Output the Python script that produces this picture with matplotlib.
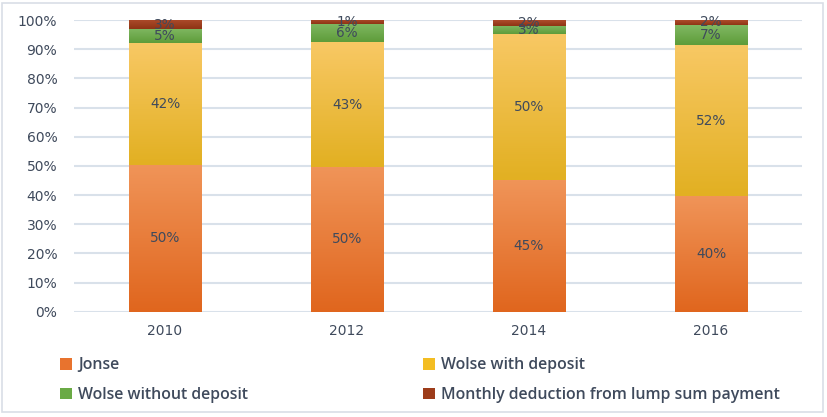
import matplotlib
matplotlib.use("Agg")
import matplotlib.pyplot as plt
import numpy as np
from matplotlib.colors import LinearSegmentedColormap
from matplotlib.patches import Patch, Rectangle

years = ["2010", "2012", "2014", "2016"]
jonse = [50.4, 49.6, 45.1, 39.6]
wolse_dep = [41.6, 42.8, 50.1, 51.9]
wolse_nodep = [4.9, 6.2, 2.8, 6.8]
monthly = [3.1, 1.4, 2.0, 1.7]

series_names = ["Jonse", "Wolse with deposit", "Wolse without deposit",
                "Monthly deduction from lump sum payment"]
series_vals = [jonse, wolse_dep, wolse_nodep, monthly]
# (top colour, bottom colour) for the gradient, plus a flat legend colour
grad_cols = [("#F09458", "#E0661E"), ("#F8C864", "#E2B022"),
             ("#80B862", "#5E9C3A"), ("#AE4C2C", "#8E3414")]
legend_cols = ["#E8732E", "#F3BD22", "#6AAA45", "#9D3C1A"]

txt_col = "#3F4A5C"
grid_col = "#D9E1EA"

fig = plt.figure(figsize=(8.27, 4.17), dpi=100)
ax = fig.add_axes([0.0895, 0.2525, 0.8803, 0.6995])

x = np.arange(len(years))
width = 0.4
bottom = np.zeros(len(years))
for vals, (c_top, c_bot) in zip(series_vals, grad_cols):
    vals = np.array(vals)
    bars = ax.bar(x, vals, width, bottom=bottom, color="none", edgecolor="none", zorder=3)
    cmap = LinearSegmentedColormap.from_list("g", [c_bot, c_top])
    grad = np.linspace(0, 1, 64).reshape(-1, 1)
    for b in bars:
        x0, y0 = b.get_x(), b.get_y()
        im = ax.imshow(grad, cmap=cmap, origin="lower", aspect="auto",
                       extent=[x0, x0 + b.get_width(), y0, y0 + b.get_height()],
                       zorder=2, interpolation="bilinear")
        im.set_clip_path(b)
    for xi, v, b0 in zip(x, vals, bottom):
        ax.text(xi, b0 + v / 2, "%d%%" % round(v), ha="center", va="center",
                fontsize=9.8, family="DejaVu Sans", color=txt_col, zorder=5)
    bottom = bottom + vals

ax.set_xlim(-0.5, len(years) - 0.5)
ax.set_ylim(0, 100)
ax.set_yticks(np.arange(0, 101, 10))
ax.set_yticklabels(["%d%%" % t for t in range(0, 101, 10)], family="DejaVu Sans")
ax.set_xticks(x)
ax.set_xticklabels(years, family="DejaVu Sans")
ax.tick_params(length=0, labelsize=10, labelcolor=txt_col)
ax.tick_params(axis="y", pad=12)
ax.tick_params(axis="x", pad=9)
ax.grid(axis="y", color=grid_col, linewidth=1.5, zorder=0)
for s in ax.spines.values():
    s.set_visible(False)

h = [Patch(facecolor=c, edgecolor="none") for c in legend_cols]
leg_font = {"family": "Open Sans", "weight": "semibold", "size": 11.4}
leg1 = fig.legend([h[0], h[2]], [series_names[0], series_names[2]], loc="upper left",
                  bbox_to_anchor=(0.055, 0.177), frameon=False, prop=leg_font,
                  handlelength=0.75, handleheight=0.75, handletextpad=0.4, labelspacing=0.85)
leg2 = fig.legend([h[1], h[3]], [series_names[1], series_names[3]], loc="upper left",
                  bbox_to_anchor=(0.494, 0.177), frameon=False, prop=leg_font,
                  handlelength=0.75, handleheight=0.75, handletextpad=0.4, labelspacing=0.85)
for lg in (leg1, leg2):
    for t in lg.get_texts():
        t.set_color(txt_col)

fig.patches.append(Rectangle((0.003, 0.012), 0.992, 0.982, transform=fig.transFigure,
                             fill=False, edgecolor="#D9DEE6", linewidth=1.2))

fig.savefig("out.png", dpi=100)
